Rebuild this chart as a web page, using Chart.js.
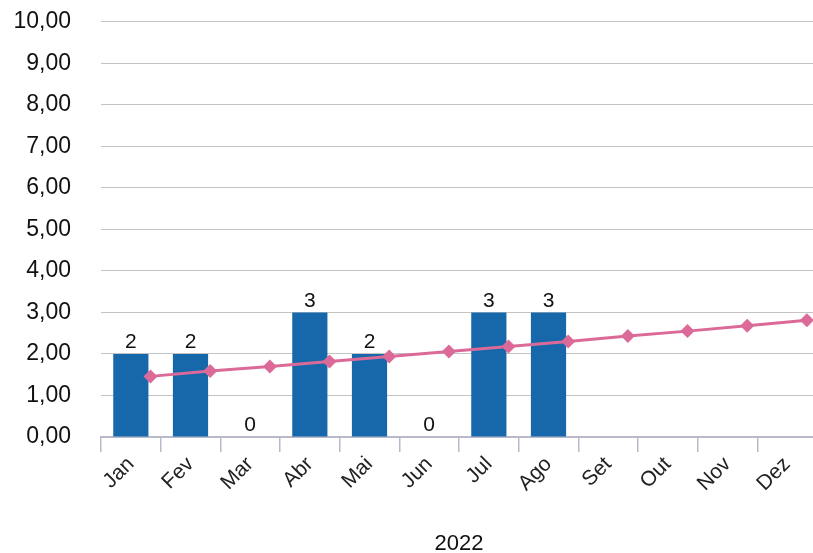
<!DOCTYPE html>
<html lang="pt">
<head>
    <meta charset="UTF-8">
    <title>2022</title>
    <script src="https://cdn.jsdelivr.net/npm/chart.js"></script>
    <style>
        html, body { margin:0; padding:0; background:#fff; overflow:hidden; }
        .wrap { width:830px; height:553px; position:relative; }
    </style>
</head>
<body>
    <div class="wrap"><canvas id="chart" width="830" height="553"></canvas></div>
    <script>
    const meses = ['Jan','Fev','Mar','Abr','Mai','Jun','Jul','Ago','Set','Out','Nov','Dez'];
    const valores = [2, 2, 0, 3, 2, 0, 3, 3, null, null, null, null];
    const tendencia = [1.46, 1.59, 1.70, 1.82, 1.94, 2.06, 2.18, 2.30, 2.43, 2.55, 2.68, 2.81];
    const ano = '2022';

    const FONTE = "'Liberation Sans', Arial, sans-serif";

    // números em cima das barras
    const rotulosBarras = {
        id: 'rotulosBarras',
        afterDatasetsDraw(chart) {
            const ctx = chart.ctx;
            const meta = chart.getDatasetMeta(0);
            ctx.save();
            ctx.font = '21px ' + FONTE;
            ctx.fillStyle = '#111';
            ctx.textAlign = 'center';
            ctx.textBaseline = 'bottom';
            meta.data.forEach((bar, i) => {
                const v = valores[i];
                if (v === null) return;
                ctx.fillText(String(v), bar.x, bar.y - 1);
            });
            ctx.restore();
        }
    };

    new Chart(document.getElementById('chart'), {
        data: {
            labels: meses,
            datasets: [{
                type: 'bar',
                data: valores,
                backgroundColor: '#1768aa',
                grouped: false,
                barPercentage: 0.59,
                categoryPercentage: 1,
                xAxisID: 'x',
                order: 2
            }, {
                type: 'line',
                data: tendencia.map((v, i) => ({ x: i, y: v })),
                borderColor: '#dc6a98',
                backgroundColor: '#dc6a98',
                borderWidth: 3,
                pointStyle: 'rectRot',
                pointRadius: 7,
                pointBorderWidth: 0,
                tension: 0,
                xAxisID: 'x2',
                order: 1
            }]
        },
        options: {
            responsive: false,
            animation: false,
            layout: { padding: { top: 0, right: 13, left: 0, bottom: 0 } },
            plugins: { legend: { display: false }, tooltip: { enabled: false } },
            scales: {
                x: {
                    type: 'category',
                    offset: true,
                    grid: {
                        offset: true,
                        drawOnChartArea: false,
                        drawTicks: true,
                        tickLength: 15,
                        tickColor: '#b9b9cc',
                        lineWidth: 1.5
                    },
                    border: { color: '#b9b9cc', width: 2 },
                    ticks: {
                        color: '#222',
                        font: { family: FONTE, size: 21 },
                        minRotation: 45,
                        maxRotation: 45,
                        padding: 0
                    },
                    title: {
                        display: true,
                        text: ano,
                        color: '#111',
                        font: { family: FONTE, size: 22 },
                        padding: { top: 0, bottom: -4 }
                    },
                    afterFit(scale) { scale.height = 116; }
                },
                x2: {
                    type: 'linear',
                    display: false,
                    min: -0.83,
                    max: 11.17
                },
                y: {
                    min: 0,
                    max: 10,
                    ticks: {
                        stepSize: 1,
                        color: '#111',
                        padding: 8,
                        font: { family: FONTE, size: 23 },
                        callback: v => v.toFixed(2).replace('.', ',')
                    },
                    grid: {
                        color: '#c4c4c4',
                        lineWidth: 1,
                        drawTicks: true,
                        tickLength: 22,
                        tickColor: 'rgba(0,0,0,0)'
                    },
                    border: { display: false },
                    afterFit(scale) { scale.width = 101; }
                }
            }
        },
        plugins: [rotulosBarras]
    });
    </script>
</body>
</html>
